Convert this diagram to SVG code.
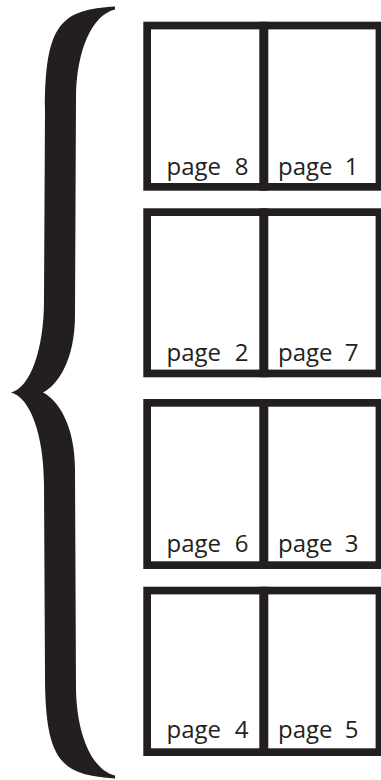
<svg xmlns="http://www.w3.org/2000/svg" width="381" height="780" viewBox="0 0 381 780">
<style>
.frame{fill:#ffffff;stroke:#231f20;stroke-width:7.7}
.spine{stroke:#231f20;stroke-width:9}
.lbl{font-family:"Open Sans","Noto Sans",sans-serif;font-size:24px;fill:#231f20}
.num{text-anchor:end}
</style>
<rect width="381" height="780" fill="#ffffff"/>
<g id="brace">
<path fill="#231f20" d="M115,6.5 C62,10 45,22 45,110 L44,300 C44,350 30,388 11,392.5 C30,397 44,435 44,485 L45,675 C45,763 62,775 115,778.5 L115,775.5 C92,770 77,735 76,690 L75,470 C75,425 58,400 43,392.5 C58,385 75,360 75,315 L76,95 C77,50 92,15 115,9.5 Z"/>
</g>
<g id="spread1">
<rect class="frame" x="147.15" y="25.55" width="232.3" height="161.3"/>
<line class="spine" x1="263.8" y1="21.7" x2="263.8" y2="190.7"/>
<text class="lbl" x="166.5" y="175">page <tspan class="num" x="248.5">8</tspan></text>
<text class="lbl" x="278" y="175">page <tspan class="num" x="358.5">1</tspan></text>
</g>
<g id="spread2">
<rect class="frame" x="147.15" y="212.15" width="232.3" height="161.3"/>
<line class="spine" x1="263.8" y1="208.3" x2="263.8" y2="377.3"/>
<text class="lbl" x="166.5" y="361">page <tspan class="num" x="248.5">2</tspan></text>
<text class="lbl" x="278" y="361">page <tspan class="num" x="358.5">7</tspan></text>
</g>
<g id="spread3">
<rect class="frame" x="147.15" y="402.85" width="232.3" height="162.3"/>
<line class="spine" x1="263.8" y1="399" x2="263.8" y2="569"/>
<text class="lbl" x="166.5" y="552">page <tspan class="num" x="248.5">6</tspan></text>
<text class="lbl" x="278" y="552">page <tspan class="num" x="358.5">3</tspan></text>
</g>
<g id="spread4">
<rect class="frame" x="147.15" y="590.55" width="232.3" height="161.6"/>
<line class="spine" x1="263.8" y1="586.7" x2="263.8" y2="756"/>
<text class="lbl" x="166.5" y="738.3">page <tspan class="num" x="248.5">4</tspan></text>
<text class="lbl" x="278" y="738.3">page <tspan class="num" x="358.5">5</tspan></text>
</g>
<g id="connectors"/>
</svg>
